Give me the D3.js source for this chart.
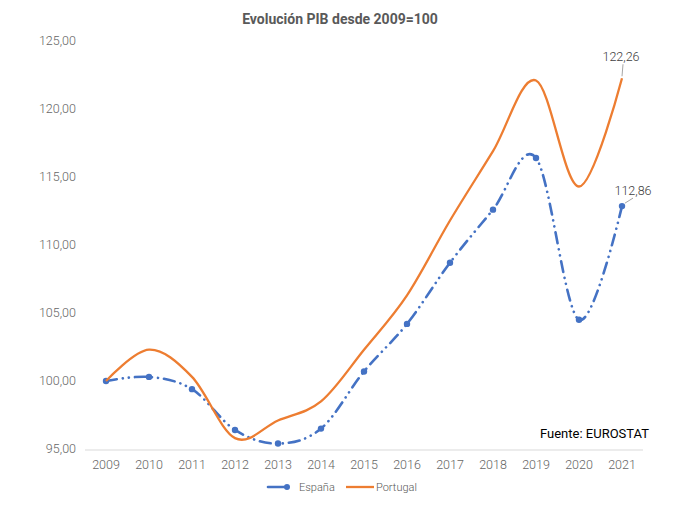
<!DOCTYPE html>
<html><head><meta charset="utf-8">
<script src="https://cdn.jsdelivr.net/npm/d3@7"></script>
<style>body{margin:0;background:#fff;}svg{display:block;font-family:Roboto,"Liberation Sans",sans-serif;}</style>
</head><body><svg id="c" width="680" height="505"></svg>
<script>
const years = [2009,2010,2011,2012,2013,2014,2015,2016,2017,2018,2019,2020,2021];
const espana = [100.00,100.30,99.40,96.40,95.40,96.50,100.70,104.20,108.70,112.60,116.40,104.50,112.86];
const portugal = [100.00,102.30,100.30,95.80,97.10,98.50,102.30,106.30,111.80,116.90,122.10,114.30,122.26];
const yTicks = [95,100,105,110,115,120,125];
const title = "Evolución PIB desde 2009=100";
const source = "Fuente: EUROSTAT";
const seriesNames = ["España","Portugal"];
const colors = ["#4472C4","#ED7D31"];

const svg = d3.select("#c");
const x = d3.scalePoint().domain(years).range([106,622]);
const y = d3.scaleLinear().domain([95,125]).range([449,41]);
const fmt = v => d3.format(".2f")(v).replace(".",",");

svg.append("text").attr("x",340).attr("y",24).attr("text-anchor","middle")
  .attr("font-size",14).attr("font-weight","bold").attr("fill","#595959").text(title);

svg.append("g").selectAll("text").data(yTicks).join("text")
  .attr("x",76).attr("y",d=>y(d)+4).attr("text-anchor","end")
  .attr("font-size",12.5).attr("font-weight",300).attr("fill","#666").text(d=>fmt(d));

svg.append("line").attr("x1",85).attr("x2",643).attr("y1",y(95)+1).attr("y2",y(95)+1)
  .attr("stroke","#d9d9d9").attr("stroke-width",1);

svg.append("g").selectAll("text").data(years).join("text")
  .attr("x",d=>x(d)).attr("y",469).attr("text-anchor","middle")
  .attr("font-size",12.5).attr("font-weight",300).attr("fill","#666").text(d=>d);

const line = d3.line().x((d,i)=>x(years[i])).y(d=>y(d)).curve(d3.curveCatmullRom.alpha(0));

const dash = "11,6,0.1,6,0.1,6";
svg.append("path").datum(espana).attr("d",line).attr("fill","none")
  .attr("stroke",colors[0]).attr("stroke-width",2.6).attr("stroke-linecap","round")
  .attr("stroke-dasharray",dash);
svg.append("g").selectAll("circle").data(espana).join("circle")
  .attr("cx",(d,i)=>x(years[i])).attr("cy",d=>y(d)).attr("r",3.2).attr("fill",colors[0]);

svg.append("path").datum(portugal).attr("d",line).attr("fill","none")
  .attr("stroke",colors[1]).attr("stroke-width",2.3);

const lastP = portugal[portugal.length-1], lastE = espana[espana.length-1];
const xl = x(years[years.length-1]);
svg.append("line").attr("x1",xl).attr("x2",xl+1).attr("y1",y(lastP)-2).attr("y2",y(lastP)-14)
  .attr("stroke","#a6a6a6").attr("stroke-width",1);
svg.append("text").attr("x",xl-1).attr("y",y(lastP)-17).attr("text-anchor","middle")
  .attr("font-size",12.5).attr("font-weight",300).attr("fill","#404040").text(fmt(lastP));
svg.append("line").attr("x1",xl+3).attr("x2",xl+11).attr("y1",y(lastE)-3).attr("y2",y(lastE)-8)
  .attr("stroke","#a6a6a6").attr("stroke-width",1);
svg.append("text").attr("x",xl+11).attr("y",y(lastE)-11).attr("text-anchor","middle")
  .attr("font-size",12.5).attr("font-weight",300).attr("fill","#404040").text(fmt(lastE));

svg.append("text").attr("x",649).attr("y",438).attr("text-anchor","end")
  .attr("font-size",13).attr("fill","#000").text(source);

const lg = svg.append("g");
lg.append("line").attr("x1",268).attr("x2",292).attr("y1",487).attr("y2",487)
  .attr("stroke",colors[0]).attr("stroke-width",2.6).attr("stroke-dasharray","19,5,0.1,5").attr("stroke-linecap","round");
lg.append("circle").attr("cx",287).attr("cy",487).attr("r",3).attr("fill",colors[0]);
lg.append("text").attr("x",299).attr("y",491).attr("font-size",11).attr("font-weight",300).attr("fill","#595959").text(seriesNames[0]);
lg.append("line").attr("x1",346).attr("x2",374).attr("y1",487).attr("y2",487)
  .attr("stroke",colors[1]).attr("stroke-width",2.3);
lg.append("text").attr("x",376).attr("y",491).attr("font-size",11).attr("font-weight",300).attr("fill","#595959").text(seriesNames[1]);
</script></body></html>
